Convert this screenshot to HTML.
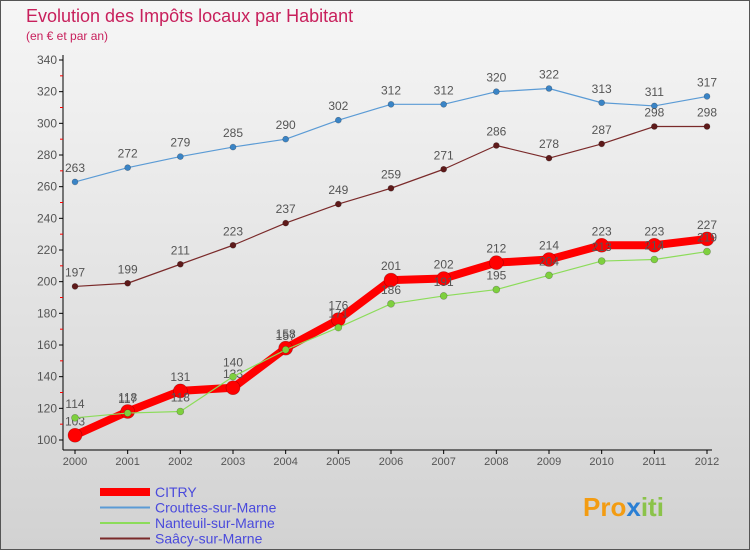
<!DOCTYPE html>
<html><head><meta charset="utf-8"><style>
body{margin:0;}
svg text{font-family:"Liberation Sans",sans-serif;}
</style></head><body>
<svg width="750" height="550" viewBox="0 0 750 550">
<defs><linearGradient id="bg" x1="0" y1="0" x2="0" y2="1"><stop offset="0" stop-color="#f6f6f6"/><stop offset="1" stop-color="#d2d2d2"/></linearGradient></defs>
<rect x="0.5" y="0.5" width="749" height="549" fill="url(#bg)" stroke="#555"/>
<text x="26" y="22" font-size="18" fill="#c8205c">Evolution des Impôts locaux par Habitant</text>
<text x="26" y="40" font-size="12" fill="#c8205c">(en € et par an)</text>
<g id="axes"></g>
<g id="series"></g>
<g id="legend"></g>
<text x="583" y="516" font-size="26" font-weight="bold" fill="#f39c12">Pro<tspan fill="#2a7fd4">x</tspan><tspan fill="#8bc34a">iti</tspan></text>
</svg>
<script>
const years=[2000,2001,2002,2003,2004,2005,2006,2007,2008,2009,2010,2011,2012];
const citry=[103,118,131,133,158,176,201,202,212,214,223,223,227];
const crouttes=[263,272,279,285,290,302,312,312,320,322,313,311,317];
const nanteuil=[114,117,118,140,157,171,186,191,195,204,213,214,219];
const saacy=[197,199,211,223,237,249,259,271,286,278,287,298,298];
const yTicks=[100,120,140,160,180,200,220,240,260,280,300,320,340];
const NS="http://www.w3.org/2000/svg";
const X=i=>75+i*(707-75)/12;
const Y=v=>440-(v-100)*(380/240);
function mk(t,a,p){const e=document.createElementNS(NS,t);for(const k in a)e.setAttribute(k,a[k]);p.appendChild(e);return e;}
const ax=document.getElementById('axes');
let e=mk('line',{x1:63,y1:55,x2:63,y2:450,stroke:'#000'},ax);


e=mk('line',{x1:63,y1:450,x2:712,y2:450,stroke:'#000'},ax);


yTicks.forEach((v,i)=>{
 mk('line',{x1:59,y1:Y(v),x2:63,y2:Y(v),stroke:'#000'},ax);
 if(i<yTicks.length-1)mk('line',{x1:60,y1:Y(v+10),x2:63,y2:Y(v+10),stroke:'#f00'},ax);
 const t=mk('text',{x:57,y:Y(v)+4,'text-anchor':'end','font-size':12,fill:'#555'},ax);t.textContent=v;
 
 
});
years.forEach((y,i)=>{
 mk('line',{x1:X(i),y1:450,x2:X(i),y2:454,stroke:'#000'},ax);
 const t=mk('text',{x:X(i),y:465,'text-anchor':'middle','font-size':11,fill:'#555'},ax);t.textContent=y;
 
 
});
const sg=document.getElementById('series');
function series(data,color,w,r,name,dot){
 const g=mk('g',{},sg);
 
 
 mk('polyline',{points:data.map((v,i)=>X(i)+','+Y(v)).join(' '),fill:'none',stroke:color,'stroke-width':w,'stroke-linejoin':'round'},g);
 data.forEach((v,i)=>{
  const c=mk('circle',{cx:X(i),cy:Y(v),r:r,fill:dot,stroke:'rgba(0,0,0,0.3)','stroke-width':0.6},g);
  
  
  const t=mk('text',{x:X(i),y:Y(v)-10,'text-anchor':'middle','font-size':12,fill:'#555'},g);t.textContent=v;
  
  
 });
}
series(crouttes,'#5b9bd5',1.2,3,'crouttes','#3a84c6');
series(saacy,'#7a2a2a',1.2,3,'saacy','#5e1a1a');
series(citry,'#f00',8,7,'citry','#f00');
series(nanteuil,'#8cdc5a',1.2,3.5,'nanteuil','#7ed03e');
const lg=document.getElementById('legend');
[['CITRY','#f00',8],['Crouttes-sur-Marne','#5b9bd5',2],['Nanteuil-sur-Marne','#8cdc5a',2],['Saâcy-sur-Marne','#7a2a2a',2]].forEach((d,i)=>{
 const y=492+i*15.5;
 const g=mk('g',{},lg);
 
 
 mk('line',{x1:100,y1:y,x2:150,y2:y,stroke:d[1],'stroke-width':d[2]},g);
 const t=mk('text',{x:155,y:y+5,'font-size':14,fill:'#4a4adc'},g);t.textContent=d[0];
});
</script>
</body></html>
